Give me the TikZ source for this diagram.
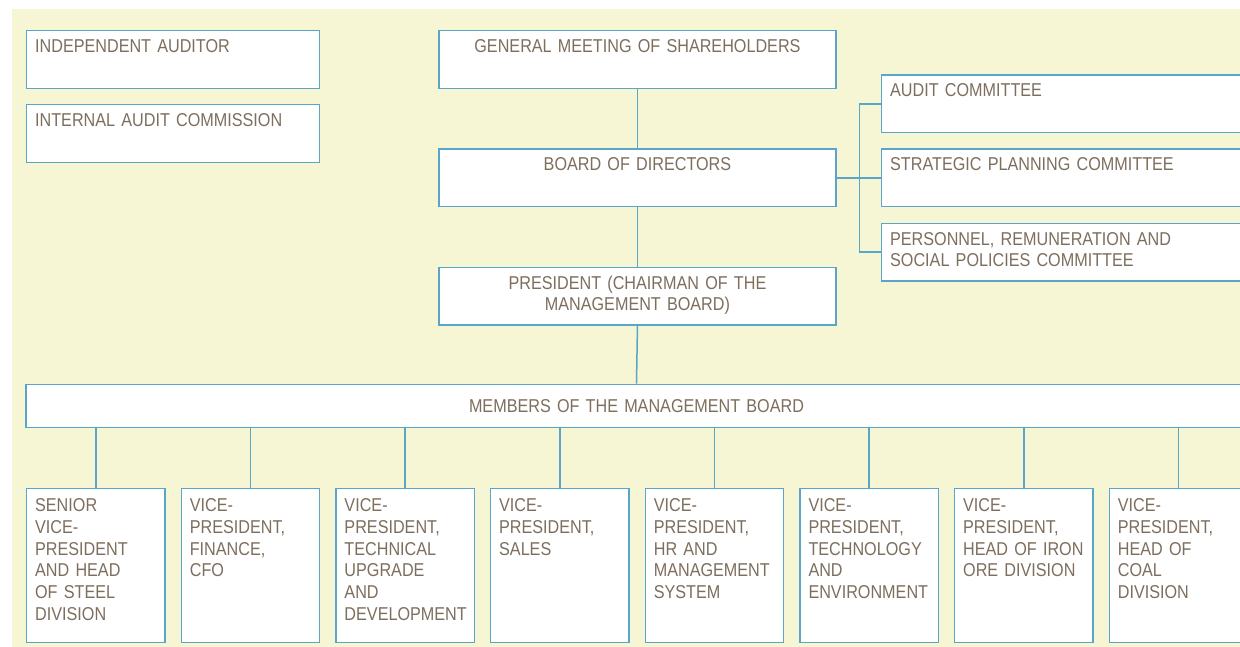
\documentclass[tikz,border=0pt]{standalone}
\usepackage{fontspec}
\setmainfont{Liberation Sans}[FakeStretch=0.87]
\definecolor{fond}{RGB}{246,246,212}
\definecolor{trait}{RGB}{90,165,202}
\definecolor{encre}{RGB}{125,110,94}

\begin{document}
\begin{tikzpicture}[x=1pt,y=-1pt,
    box/.style={draw=trait, fill=white, line width=1.3pt, text=encre,
      anchor=north west, inner xsep=8.5pt, inner ysep=8.4pt,
      text height=13.3pt, text depth=27.6pt,
      font=\fontsize{18.6pt}{21.7pt}\selectfont},
    leftbox/.style={box, align=left, text width=#1},
    midbox/.style={box, align=center, text width=#1},
    link/.style={draw=trait, line width=1.5pt}]
    \useasboundingbox (0,0) rectangle (1240,647);
    \clip (0,0) rectangle (1240,647);
    \fill[fond] (12,9) rectangle (1240,647);

    % Controle
    \node[leftbox=276pt] (auditor) at (26,30) {INDEPENDENT AUDITOR};
    \node[leftbox=276pt] (commission) at (26,104) {INTERNAL AUDIT COMMISSION};

    % Colonne centrale
    \node[midbox=380pt] (meeting) at (438.3,30) {GENERAL MEETING OF SHAREHOLDERS};
    \node[midbox=380pt] (board) at (438.3,148.3) {BOARD OF DIRECTORS};
    \node[midbox=380pt] (president) at (438.3,266.7) {PRESIDENT (CHAIRMAN OF THE\\MANAGEMENT BOARD)};

    % Comites
    \node[leftbox=349pt] (audit) at (881,74.3) {AUDIT COMMITTEE};
    \node[leftbox=349pt] (strategic) at (881,148.3) {STRATEGIC PLANNING COMMITTEE};
    \node[leftbox=349pt] (personnel) at (881,222.7) {PERSONNEL, REMUNERATION AND\\SOCIAL POLICIES COMMITTEE};

    % Directoire
    \node[midbox=1204pt, anchor=center, text depth=0pt, minimum height=43pt] (members) at (636.5,405.8) {MEMBERS OF THE MANAGEMENT BOARD};

    \foreach \i/\txt in {0/{SENIOR\\VICE-\\PRESIDENT\\AND~HEAD\\OF~STEEL\\DIVISION},
                         1/{VICE-\\PRESIDENT,\\FINANCE,\\CFO},
                         2/{VICE-\\PRESIDENT,\\TECHNICAL\\UPGRADE\\AND\\DEVELOPMENT},
                         3/{VICE-\\PRESIDENT,\\SALES},
                         4/{VICE-\\PRESIDENT,\\HR~AND\\MANAGEMENT\\SYSTEM},
                         5/{VICE-\\PRESIDENT,\\TECHNOLOGY\\AND\\ENVIRONMENT},
                         6/{VICE-\\PRESIDENT,\\HEAD~OF~IRON\\ORE~DIVISION},
                         7/{VICE-\\PRESIDENT,\\HEAD~OF\\COAL\\DIVISION}}
        \node[leftbox=121.3pt, inner ysep=10pt, text depth=120.7pt] (vp\i) at (26+154.67*\i,487.7) {\txt};

    % Liaisons
    \draw[link] (meeting.south) -- (board.north);
    \draw[link] (board.south) -- (president.north);
    \draw[link] (president.south) -- (members.north);

    \coordinate (spine) at ([xshift=22.7pt]board.east);
    \draw[link] (board.east) -- (spine) -- (strategic.west);
    \draw[link] (audit.west) -| (spine) |- (personnel.west);

    \foreach \i in {0,...,7}
        \draw[link] (members.south -| vp\i.north) -- (vp\i.north);
\end{tikzpicture}
\end{document}
